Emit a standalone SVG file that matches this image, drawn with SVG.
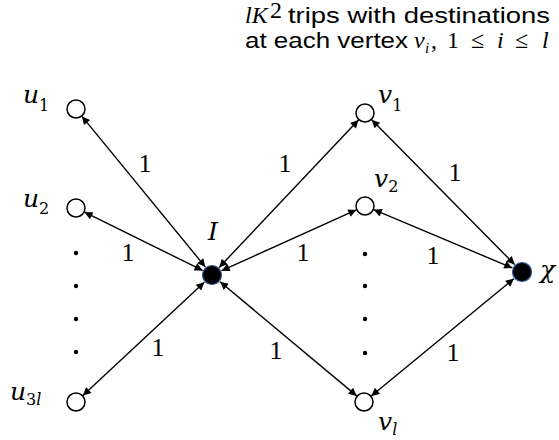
<svg xmlns="http://www.w3.org/2000/svg" width="559" height="440" viewBox="0 0 559 440">
<style>
.edge{stroke:#000;stroke-width:1.4;fill:none;marker-start:url(#ah);marker-end:url(#ah)}
.open{fill:#fff;stroke:#000;stroke-width:1.5}
.solid{fill:#000;stroke:#2f5597;stroke-width:1.2}
.dot{fill:#000}
.m{font-family:"DejaVu Serif","Liberation Serif",serif;font-style:italic;font-size:25px;fill:#000}
.sub{font-family:"DejaVu Serif","Liberation Serif",serif;font-style:normal;font-size:16px}
.subi{font-family:"DejaVu Serif","Liberation Serif",serif;font-style:italic;font-size:16px}
.w{font-family:"Liberation Serif","DejaVu Serif",serif;font-size:26px;fill:#000;text-anchor:middle}
.t{font-family:"Liberation Sans","Open Sans",sans-serif;font-size:22px;fill:#000}
.tm{font-family:"Liberation Serif","DejaVu Serif",serif;font-style:italic;font-size:24px;fill:#000}
.tn{font-family:"Liberation Serif","DejaVu Serif",serif;font-style:normal;font-size:24px;fill:#000}
</style>
<defs>
<marker id="ah" viewBox="0 0 10 10" refX="10" refY="5" markerUnits="userSpaceOnUse" markerWidth="11" markerHeight="8" orient="auto-start-reverse">
<path d="M0,0 L10,5 L0,10 z" fill="#000"/>
</marker>
</defs>
<g id="caption">
<text x="245" y="23" class="tm">lK</text>
<text x="270" y="18" class="tn" font-size="13">2</text>
<text x="288" y="23" class="t" textLength="262" lengthAdjust="spacingAndGlyphs">trips with destinations</text>
<text x="245" y="48" class="t" textLength="163" lengthAdjust="spacingAndGlyphs">at each vertex</text>
<text y="48" class="tm"><tspan x="414">v</tspan><tspan x="425" y="53" font-size="15">i</tspan><tspan class="tn" x="431" y="48">,</tspan><tspan class="tn" x="447">1</tspan><tspan class="tn" x="471">≤</tspan><tspan x="497">i</tspan><tspan class="tn" x="515">≤</tspan><tspan x="542">l</tspan></text>
</g>
<g id="connectors">
<line class="edge" x1="82.0" y1="116.4" x2="205.3" y2="266.9"/>
<line class="edge" x1="84.5" y1="212.2" x2="202.6" y2="270.4"/>
<line class="edge" x1="82.9" y1="395.5" x2="204.3" y2="282.2"/>
<line class="edge" x1="219.2" y1="267.4" x2="358.5" y2="119.9"/>
<line class="edge" x1="221.6" y1="270.7" x2="356.3" y2="209.9"/>
<line class="edge" x1="220.1" y1="281.7" x2="356.7" y2="395.9"/>
<line class="edge" x1="371.7" y1="119.8" x2="514.6" y2="264.5"/>
<line class="edge" x1="373.8" y1="209.7" x2="512.3" y2="267.9"/>
<line class="edge" x1="371.3" y1="396.0" x2="513.9" y2="278.7"/>
</g>
<g id="weights">
<text class="w" x="145" y="172">1</text>
<text class="w" x="128" y="261">1</text>
<text class="w" x="158" y="356">1</text>
<text class="w" x="285" y="172">1</text>
<text class="w" x="303" y="261">1</text>
<text class="w" x="276" y="359">1</text>
<text class="w" x="455" y="181">1</text>
<text class="w" x="433" y="264">1</text>
<text class="w" x="453" y="361">1</text>
</g>
<g id="u1"><circle class="open" cx="76" cy="109" r="9"/><text class="m" x="23" y="103">u<tspan class="sub" dy="8">1</tspan></text></g>
<g id="u2"><circle class="open" cx="76" cy="208" r="9"/><text class="m" x="23" y="207">u<tspan class="sub" dy="7">2</tspan></text></g>
<g id="u3l"><circle class="open" cx="76" cy="402" r="9"/><text class="m" x="10" y="400">u<tspan class="sub" dy="5">3</tspan><tspan class="subi">l</tspan></text></g>
<g id="udots"><circle class="dot" cx="76" cy="253" r="2.2"/><circle class="dot" cx="76" cy="286" r="2.2"/><circle class="dot" cx="76" cy="319" r="2.2"/><circle class="dot" cx="76" cy="352" r="2.2"/></g>
<g id="I"><circle class="solid" cx="212" cy="275" r="9.5"/><text class="m" x="208" y="240">I</text></g>
<g id="v1"><circle class="open" cx="365" cy="113" r="9"/><text class="m" x="378" y="103">v<tspan class="sub" dy="8">1</tspan></text></g>
<g id="v2"><circle class="open" cx="365" cy="206" r="9"/><text class="m" x="374" y="187">v<tspan class="sub" dy="5">2</tspan></text></g>
<g id="vl"><circle class="open" cx="364" cy="402" r="9"/><text class="m" x="378" y="430">v<tspan class="subi" dy="5">l</tspan></text></g>
<g id="vdots"><circle class="dot" cx="365" cy="254" r="2.2"/><circle class="dot" cx="365" cy="286" r="2.2"/><circle class="dot" cx="365" cy="319" r="2.2"/><circle class="dot" cx="365" cy="353" r="2.2"/></g>
<g id="chi"><circle class="solid" cx="522" cy="272" r="9.5"/><text class="m" x="540" y="278">χ</text></g>
</svg>
